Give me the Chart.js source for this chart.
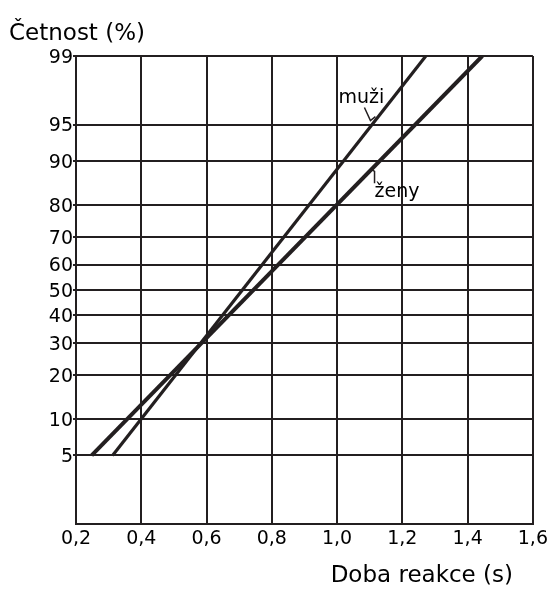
<!DOCTYPE html>
<html>
<head>
<meta charset="utf-8">
<script src="https://cdn.jsdelivr.net/npm/chart.js@4"></script>
<style>
  html, body { margin: 0; padding: 0; background: #ffffff; }
  #wrap { width: 552px; height: 589px; }
</style>
</head>
<body>
<div id="wrap"><canvas id="chart"></canvas></div>
<script>
// Reaction time (s) on a normal-probability (probit) percentage scale
const timeTicks = [0.2, 0.4, 0.6, 0.8, 1.0, 1.2, 1.4, 1.6];
const percentTicks = [5, 10, 20, 30, 40, 50, 60, 70, 80, 90, 95, 99];
const percentRange = [1, 99];

const menTime = [0.312, 1.272];
const menPercent = [5, 99];
const womenTime = [0.248, 1.445];
const womenPercent = [5, 99];

const INK = '#231f20';
const TEXT = '#000000';
const FONT = 'DejaVu Sans';

// Inverse of the standard normal CDF (Acklam's approximation), percent in, z out
function probit(pct) {
  const p = pct / 100;
  const a = [-3.969683028665376e+01, 2.209460984245205e+02, -2.759285104469687e+02,
             1.383577518672690e+02, -3.066479806614716e+01, 2.506628277459239e+00];
  const b = [-5.447609879822406e+01, 1.615858368580409e+02, -1.556989798598866e+02,
             6.680131188771972e+01, -1.328068155288572e+01];
  const c = [-7.784894002430293e-03, -3.223964580411365e-01, -2.400758277161838e+00,
             -2.549732539343734e+00, 4.374664141464968e+00, 2.938163982698783e+00];
  const d = [7.784695709041462e-03, 3.224671290700398e-01, 2.445134137142996e+00,
             3.754408661907416e+00];
  const pl = 0.02425, ph = 1 - pl;
  let q, r;
  if (p < pl) {
    q = Math.sqrt(-2 * Math.log(p));
    return (((((c[0]*q + c[1])*q + c[2])*q + c[3])*q + c[4])*q + c[5]) /
           ((((d[0]*q + d[1])*q + d[2])*q + d[3])*q + 1);
  }
  if (p > ph) {
    q = Math.sqrt(-2 * Math.log(1 - p));
    return -(((((c[0]*q + c[1])*q + c[2])*q + c[3])*q + c[4])*q + c[5]) /
            ((((d[0]*q + d[1])*q + d[2])*q + d[3])*q + 1);
  }
  q = p - 0.5; r = q * q;
  return (((((a[0]*r + a[1])*r + a[2])*r + a[3])*r + a[4])*r + a[5]) * q /
         (((((b[0]*r + b[1])*r + b[2])*r + b[3])*r + b[4])*r + 1);
}

const toPoints = (times, pcts) => times.map((t, i) => ({ x: t, y: probit(pcts[i]) }));

// Pixel position on a dataset's line at a given percentage
function pointOnLine(chart, times, pcts, pct) {
  const z0 = probit(pcts[0]), z1 = probit(pcts[1]), z = probit(pct);
  const f = (z - z0) / (z1 - z0);
  const t = times[0] + f * (times[1] - times[0]);
  return { x: chart.scales.x.getPixelForValue(t), y: chart.scales.y.getPixelForValue(z) };
}

const labelsPlugin = {
  id: 'labels',
  afterDraw(chart) {
    const ctx = chart.ctx;
    ctx.save();
    ctx.fillStyle = TEXT;
    ctx.strokeStyle = INK;
    ctx.textBaseline = 'alphabetic';

    // axis titles
    ctx.font = `23px "${FONT}"`;
    ctx.textAlign = 'left';
    ctx.fillText('Četnost (%)', 9, 40);
    ctx.textAlign = 'right';
    ctx.fillText('Doba reakce (s)', 513, 582);

    // series labels with leader strokes
    ctx.lineWidth = 1.5;
    ctx.font = `19px "${FONT}"`;
    ctx.textAlign = 'left';

    const m = pointOnLine(chart, menTime, menPercent, 95.3);
    ctx.beginPath();
    ctx.moveTo(m.x - 10, m.y - 14);
    ctx.lineTo(m.x - 4, m.y - 1);
    ctx.lineTo(m.x + 1, m.y - 5);
    ctx.stroke();
    ctx.fillText('muži', m.x - 36, m.y - 19);

    const w = pointOnLine(chart, womenTime, womenPercent, 88.3);
    ctx.beginPath();
    ctx.moveTo(w.x + 1, w.y - 1);
    ctx.lineTo(w.x + 4, w.y + 1);
    ctx.lineTo(w.x + 4, w.y + 13);
    ctx.stroke();
    ctx.fillText('ženy', w.x + 4, w.y + 27);

    ctx.restore();
  }
};

new Chart(document.getElementById('chart'), {
  type: 'scatter',
  data: {
    datasets: [
      {
        label: 'muži',
        data: toPoints(menTime, menPercent),
        showLine: true,
        borderColor: INK,
        borderWidth: 3.2,
        pointRadius: 0,
        borderCapStyle: 'butt'
      },
      {
        label: 'ženy',
        data: toPoints(womenTime, womenPercent),
        showLine: true,
        borderColor: INK,
        borderWidth: 4,
        pointRadius: 0,
        borderCapStyle: 'butt'
      }
    ]
  },
  options: {
    responsive: true,
    maintainAspectRatio: false,
    animation: false,
    layout: { padding: { top: 56, right: 18, bottom: 0, left: 0 } },
    plugins: {
      legend: { display: false },
      tooltip: { enabled: false },
      title: { display: false }
    },
    scales: {
      x: {
        type: 'linear',
        min: timeTicks[0],
        max: timeTicks[timeTicks.length - 1],
        afterBuildTicks: s => { s.ticks = timeTicks.map(v => ({ value: v })); },
        afterFit: s => { s.height = 65; },
        ticks: {
          callback: v => v.toFixed(1).replace('.', ','),
          font: { family: FONT, size: 19 },
          color: TEXT,
          padding: 4,
          autoSkip: false,
          maxRotation: 0
        },
        grid: { color: INK, lineWidth: 2, drawTicks: false },
        border: { color: INK, width: 2 }
      },
      y: {
        type: 'linear',
        min: probit(percentRange[0]),
        max: probit(percentRange[1]),
        afterBuildTicks: s => {
          s.ticks = [percentRange[0], ...percentTicks].map(p => ({ value: probit(p) }));
        },
        afterFit: s => { s.width = 76; },
        ticks: {
          callback: (v, i) => (i === 0 ? '' : String(percentTicks[i - 1])),
          font: { family: FONT, size: 19 },
          color: TEXT,
          padding: 0,
          labelOffset: 2,
          autoSkip: false
        },
        grid: {
          color: INK,
          lineWidth: 2,
          tickLength: 3,
          tickColor: c => (c.index === 0 ? 'rgba(0,0,0,0)' : INK)
        },
        border: { color: INK, width: 2 }
      }
    }
  },
  plugins: [labelsPlugin]
});
</script>
</body>
</html>
